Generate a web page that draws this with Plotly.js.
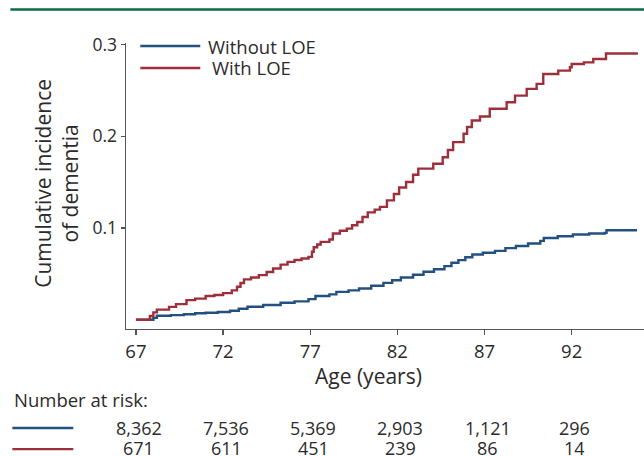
<!DOCTYPE html>
<html>
<head>
<meta charset="utf-8">
<script src="https://cdn.plot.ly/plotly-3.0.1.min.js"></script>
<style>html,body{margin:0;padding:0;background:#fff;}#chart{width:644px;height:456px;}</style>
</head>
<body>
<div id="chart"></div>
<script>
// ---- Data ----
var seriesNames = ["Without LOE", "With LOE"];

var ageWithout = [67.0, 67.7, 68.0, 68.2, 69.0, 69.75, 70.4, 71.0, 71.7, 72.4, 72.9, 73.4, 74.3, 75.3, 76.1, 76.9, 77.3, 78.1, 78.5, 79.2, 79.8, 80.5, 81.2, 81.7, 82.2, 82.9, 83.5, 84.1, 84.7, 85.1, 85.5, 85.9, 86.3, 86.9, 87.6, 88.2, 88.8, 89.5, 90.2, 90.4, 91.2, 92.07, 93.0, 93.9, 94.0, 95.75];
var cumWithout = [0, 0, 0.002, 0.0044, 0.005, 0.006, 0.007, 0.0076, 0.0085, 0.0098, 0.012, 0.0141, 0.016, 0.0185, 0.020, 0.0225, 0.0258, 0.0276, 0.0304, 0.032, 0.034, 0.037, 0.0402, 0.043, 0.046, 0.049, 0.0522, 0.055, 0.0584, 0.062, 0.0649, 0.068, 0.0711, 0.073, 0.075, 0.078, 0.0804, 0.083, 0.0859, 0.0891, 0.091, 0.0928, 0.094, 0.0946, 0.0975, 0.0975];

var ageWith = [67.0, 67.6, 67.8, 68.0, 68.2, 68.9, 69.3, 69.9, 70.4, 71.0, 71.5, 72.0, 72.5, 72.8, 73.0, 73.2, 73.6, 74.05, 74.5, 74.87, 75.3, 75.7, 76.1, 76.5, 76.9, 77.1, 77.2, 77.4, 77.6, 78.1, 78.3, 78.7, 79.1, 79.4, 79.7, 80.0, 80.3, 80.7, 81.0, 81.4, 81.8, 82.1, 82.5, 82.9, 83.2, 84.06, 84.6, 84.9, 85.2, 85.8, 86.0, 86.27, 86.74, 87.3, 88.27, 88.75, 89.42, 89.99, 90.37, 91.23, 91.9, 92.0, 92.7, 93.24, 93.97, 95.8];
var cumWith = [0, 0, 0.004, 0.008, 0.011, 0.014, 0.017, 0.0214, 0.023, 0.0258, 0.027, 0.029, 0.032, 0.036, 0.040, 0.044, 0.046, 0.0486, 0.052, 0.0558, 0.060, 0.063, 0.065, 0.0667, 0.0685, 0.074, 0.079, 0.082, 0.0848, 0.0874, 0.094, 0.097, 0.0993, 0.103, 0.1065, 0.112, 0.117, 0.120, 0.123, 0.130, 0.137, 0.144, 0.150, 0.158, 0.1646, 0.170, 0.177, 0.185, 0.1935, 0.2026, 0.210, 0.217, 0.2214, 0.2298, 0.237, 0.2442, 0.2515, 0.257, 0.2678, 0.2714, 0.275, 0.2787, 0.2804, 0.284, 0.290, 0.290];

var xTickVals = [67, 72, 77, 82, 87, 92];
var xTickText = ["67", "72", "77", "82", "87", "92"];
var yTickVals = [0.1, 0.2, 0.3];
var yTickText = ["0.1", "0.2", "0.3"];

var riskAges = [67, 72, 77, 82, 87, 92];
var riskWithout = ["8,362", "7,536", "5,369", "2,903", "1,121", "296"];
var riskWith = ["671", "611", "451", "239", "86", "14"];

// ---- Styling ----
var colWithout = "#22507f";
var colWith = "#9d2f3a";
var txt = "#2b2b2b";
var font = "Open Sans, Noto Sans, sans-serif";

var traces = [
  {x: ageWithout, y: cumWithout, name: seriesNames[0], type: "scatter", mode: "lines",
   line: {shape: "hv", color: colWithout, width: 2.4}},
  {x: ageWith, y: cumWith, name: seriesNames[1], type: "scatter", mode: "lines",
   line: {shape: "hv", color: colWith, width: 2.4}}
];

var annotations = [
  {text: "Cumulative incidence<br>of dementia", textangle: -90, xref: "paper", yref: "paper",
   x: -0.1335, y: 0.5105, xanchor: "center", yanchor: "middle", showarrow: false,
   font: {family: font, size: 21, color: txt}},
  {text: "Age (years)", xref: "paper", yref: "paper", x: 0.4675, y: -0.163,
   xanchor: "center", yanchor: "middle", showarrow: false, font: {family: font, size: 21, color: txt}},
  {text: "Number at risk:", xref: "paper", yref: "paper", x: -0.2195, y: -0.248,
   xanchor: "left", yanchor: "middle", showarrow: false, font: {family: font, size: 18.5, color: txt}},
  {text: seriesNames[0], xref: "paper", yref: "paper", x: 0.1549, y: 0.9895,
   xanchor: "left", yanchor: "middle", showarrow: false, font: {family: font, size: 18.5, color: txt}},
  {text: seriesNames[1], xref: "paper", yref: "paper", x: 0.1626, y: 0.9126,
   xanchor: "left", yanchor: "middle", showarrow: false, font: {family: font, size: 18.5, color: txt}}
];
for (var i = 0; i < riskAges.length; i++) {
  annotations.push({text: riskWithout[i], xref: "x", yref: "paper", x: riskAges[i], xshift: 3,
    y: -0.343, xanchor: "center", yanchor: "middle", showarrow: false, height: 19, valign: "middle",
    font: {family: font, size: 18, color: txt}});
  annotations.push({text: riskWith[i], xref: "x", yref: "paper", x: riskAges[i], xshift: 3,
    y: -0.413, xanchor: "center", yanchor: "middle", showarrow: false, height: 19, valign: "middle",
    font: {family: font, size: 18, color: txt}});
}

var shapes = [
  {type: "line", xref: "paper", yref: "paper", x0: -0.2232, x1: 1.0, y0: 1.117, y1: 1.117,
   line: {color: "#0b6b47", width: 2.5}},
  {type: "line", xref: "paper", yref: "paper", x0: 0.0276, x1: 0.1434, y0: 0.9895, y1: 0.9895,
   line: {color: colWithout, width: 2.4}},
  {type: "line", xref: "paper", yref: "paper", x0: 0.0276, x1: 0.1434, y0: 0.9126, y1: 0.9126,
   line: {color: colWith, width: 2.4}},
  {type: "line", xref: "paper", yref: "paper", x0: -0.2194, x1: -0.1017, y0: -0.346, y1: -0.346,
   line: {color: colWithout, width: 2.4}},
  {type: "line", xref: "paper", yref: "paper", x0: -0.2194, x1: -0.1017, y0: -0.42, y1: -0.42,
   line: {color: colWith, width: 2.4}}
];

var layout = {
  width: 644, height: 456, autosize: false,
  margin: {l: 126, r: 0, t: 43, b: 127, pad: 0},
  paper_bgcolor: "#ffffff", plot_bgcolor: "#ffffff",
  showlegend: false,
  font: {family: font, color: txt},
  xaxis: {range: [66.43, 96.15], tickvals: xTickVals, ticktext: xTickText,
    showline: true, linecolor: "#555555", linewidth: 1.4, ticks: "outside", ticklen: 5,
    tickcolor: "#555555", tickwidth: 1.2, showgrid: false, zeroline: false,
    tickfont: {family: font, size: 18.5, color: txt}},
  yaxis: {range: [-0.0101, 0.3015], tickvals: yTickVals, ticktext: yTickText,
    showline: true, linecolor: "#555555", linewidth: 1.4, ticks: "outside", ticklen: 4,
    tickcolor: "#555555", tickwidth: 1.2, showgrid: false, zeroline: false,
    tickfont: {family: font, size: 17.5, color: txt}},
  annotations: annotations,
  shapes: shapes
};

Plotly.newPlot("chart", traces, layout, {displayModeBar: false, staticPlot: true});
</script>
</body>
</html>
